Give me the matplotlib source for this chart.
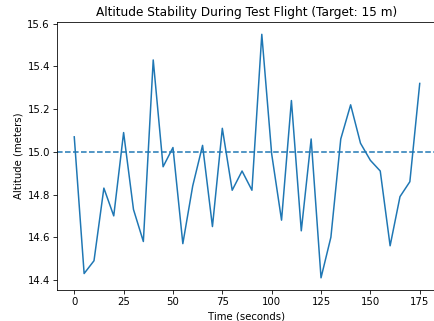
import numpy as np
import matplotlib.pyplot as plt

time_s = np.arange(0, 180, 5)
altitude = [15.07, 14.43, 14.49, 14.83, 14.70, 15.09, 14.73, 14.58, 15.43, 14.93,
            15.02, 14.57, 14.84, 15.03, 14.65, 15.11, 14.82, 14.91, 14.82, 15.55,
            14.99, 14.68, 15.24, 14.63, 15.06, 14.41, 14.60, 15.06, 15.22, 15.04,
            14.96, 14.91, 14.56, 14.79, 14.86, 15.32]
target = 15

s = 0.725  # reference looks like a downscaled default figure
fig = plt.figure(figsize=(4.35, 3.21), dpi=100)
ax = fig.add_axes([0.131, 0.0966, 0.8736, 0.8344])

ax.plot(time_s, altitude, linewidth=1.5 * s, color='#1f77b4')
ax.axhline(target, linestyle='--', linewidth=1.5 * s, color='#1f77b4')

ax.set_title('Altitude Stability During Test Flight (Target: 15 m)', fontsize=12 * s, pad=6 * s)
ax.set_xlabel('Time (seconds)', fontsize=10 * s, labelpad=4 * s)
ax.set_ylabel('Altitude (meters)', fontsize=10 * s, labelpad=4 * s)
ax.tick_params(labelsize=10 * s, width=0.8 * s, length=3.5 * s, pad=3.5 * s)
for sp in ax.spines.values():
    sp.set_linewidth(0.8 * s)

fig.savefig('out.png', dpi=100)
